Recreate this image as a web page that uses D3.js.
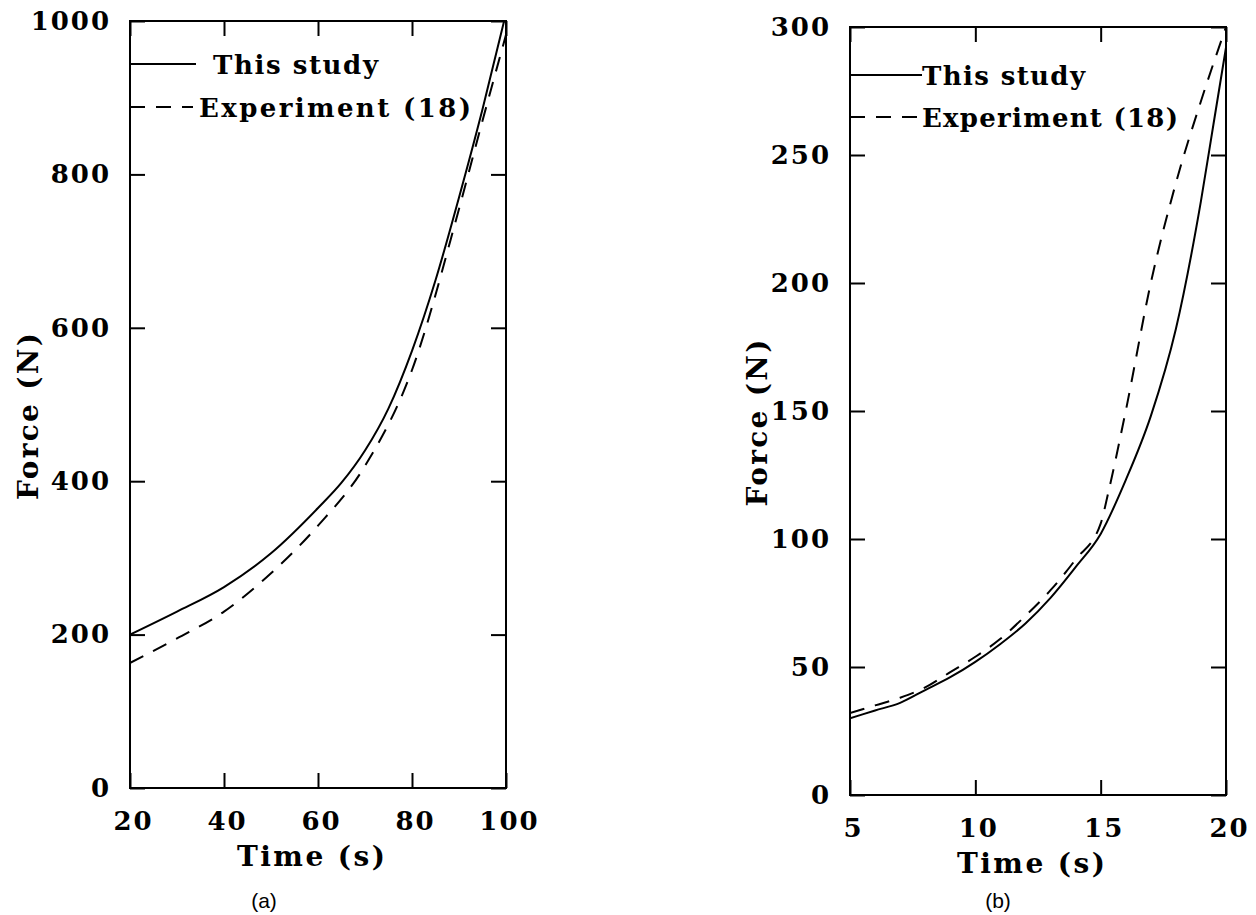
<!DOCTYPE html>
<html>
<head>
<meta charset="utf-8">
<script src="https://cdn.jsdelivr.net/npm/d3@7"></script>
<style>
  body { margin: 0; background: #fff; }
  svg text { font-family: "DejaVu Serif", serif; font-weight: bold; fill: #000; }
  svg text.caption { font-family: "Liberation Sans", Arial, sans-serif; font-weight: normal; }
</style>
</head>
<body>
<div id="chart"></div>
<script>
// panel (a)
const studyTimeA = [20, 30, 40, 50, 60, 65, 70, 75, 80, 85, 90, 95, 99.6];
const studyForceA = [200, 230, 262, 306, 365, 398, 440, 495, 570, 662, 770, 885, 1000];
const expTimeA = [20, 30, 40, 50, 60, 70, 80, 90, 95, 100];
const expForceA = [163, 195, 230, 280, 342, 420, 545, 755, 870, 982];
const xTicksA = [20, 40, 60, 80, 100];
const yTicksA = [0, 200, 400, 600, 800, 1000];

// panel (b)
const studyTimeB = [5, 6, 7, 8, 9, 10, 11, 12, 13, 14, 15, 16, 17, 18, 19, 19.5, 20];
const studyForceB = [30, 33, 36, 41, 46, 52, 59, 67, 77, 89, 102, 123, 148, 182, 232, 262, 292];
const expTimeB = [5, 6, 7, 8, 9, 10, 11, 12, 13, 14, 15, 15.3, 16, 17, 18, 19, 20];
const expForceB = [32, 35, 38, 42, 48, 54, 61, 70, 80, 92, 106, 118, 150, 200, 239, 271, 300];
const xTicksB = [5, 10, 15, 20];
const yTicksB = [0, 50, 100, 150, 200, 250, 300];

const seriesNames = ["This study", "Experiment (18)"];

const svg = d3.select("#chart").append("svg")
    .attr("width", 1256)
    .attr("height", 915);

function drawPanel(p) {
  const g = svg.append("g").attr("transform", `translate(${p.left},${p.top})`);

  const x = d3.scaleLinear().domain(p.xDomain).range([0, p.width]);
  const y = d3.scaleLinear().domain(p.yDomain).range([p.height, 0]);

  g.append("clipPath").attr("id", p.id + "clip")
    .append("rect").attr("width", p.width).attr("height", p.height);

  // axes, ticks pointing inward
  g.append("g")
      .call(d3.axisLeft(y).tickValues(p.yTicks).tickFormat(d3.format("d"))
        .tickSize(-15).tickSizeOuter(0).tickPadding(19));
  const bottom = g.append("g").attr("transform", `translate(0,${p.height})`)
      .call(d3.axisBottom(x).tickValues(p.xTicks).tickFormat(d3.format("d"))
        .tickSize(-15).tickSizeOuter(0).tickPadding(24));
  g.append("g").attr("transform", `translate(${p.width},0)`)
      .call(d3.axisRight(y).tickValues(p.yTicks).tickSize(-15).tickSizeOuter(0).tickFormat(""));
  g.append("g")
      .call(d3.axisTop(x).tickValues(p.xTicks).tickSize(-15).tickSizeOuter(0).tickFormat(""));

  g.selectAll(".domain").remove();
  g.selectAll(".tick line").attr("stroke", "#000").attr("stroke-width", 2);
  g.selectAll(".tick text")
      .style("font-family", "DejaVu Serif").style("font-weight", "bold")
      .style("font-size", "26px").style("letter-spacing", "2px");
  bottom.selectAll(".tick text").attr("dx", 3);

  g.append("rect")
      .attr("width", p.width).attr("height", p.height)
      .attr("fill", "none").attr("stroke", "#000").attr("stroke-width", 2);

  // curves
  const line = d3.line().x(d => x(d[0])).y(d => y(d[1])).curve(d3.curveMonotoneX);
  const study = p.studyTime.map((t, i) => [t, p.studyForce[i]]);
  const exp = p.expTime.map((t, i) => [t, p.expForce[i]]);
  const curves = g.append("g").attr("clip-path", `url(#${p.id}clip)`);
  curves.append("path").datum(study).attr("d", line)
      .attr("fill", "none").attr("stroke", "#000").attr("stroke-width", 2);
  curves.append("path").datum(exp).attr("d", line)
      .attr("fill", "none").attr("stroke", "#000").attr("stroke-width", 2)
      .attr("stroke-dasharray", "15,11");

  // legend
  const lg = g.append("g");
  p.legend.forEach((l, i) => {
    lg.append("line")
        .attr("x1", 0).attr("x2", l.lineEnd).attr("y1", l.y).attr("y2", l.y)
        .attr("stroke", "#000").attr("stroke-width", 2)
        .attr("stroke-dasharray", i === 1 ? "15,11" : null);
    lg.append("text")
        .attr("x", l.textX).attr("y", l.y + 10)
        .attr("textLength", l.len).attr("lengthAdjust", "spacing")
        .style("font-size", "26px")
        .text(seriesNames[i]);
  });

  // axis titles
  g.append("text")
      .attr("x", p.width / 2 - 7).attr("y", p.height + 78)
      .attr("text-anchor", "middle")
      .attr("textLength", 148).attr("lengthAdjust", "spacing")
      .style("font-size", "28px")
      .text("Time (s)");
  g.append("text")
      .attr("transform", `translate(${p.yTitleX},${p.height / 2 + 12}) rotate(-90)`)
      .attr("text-anchor", "middle")
      .attr("dy", "0.35em")
      .attr("textLength", 167).attr("lengthAdjust", "spacing")
      .style("font-size", "28px")
      .text("Force (N)");

  g.append("text").attr("class", "caption")
      .attr("x", p.captionX).attr("y", 908 - p.top)
      .attr("text-anchor", "middle")
      .style("font-size", "21px")
      .text(p.caption);
}

drawPanel({
  id: "a", left: 130, top: 21, width: 376, height: 767,
  xDomain: [20, 100], yDomain: [0, 1000], xTicks: xTicksA, yTicks: yTicksA,
  studyTime: studyTimeA, studyForce: studyForceA, expTime: expTimeA, expForce: expForceA,
  legend: [{y: 43, lineEnd: 66, textX: 83, len: 165}, {y: 86, lineEnd: 63, textX: 69, len: 272}],
  yTitleX: -102, captionX: 134, caption: "(a)"
});

drawPanel({
  id: "b", left: 850, top: 27, width: 376, height: 768,
  xDomain: [5, 20], yDomain: [0, 300], xTicks: xTicksB, yTicks: yTicksB,
  studyTime: studyTimeB, studyForce: studyForceB, expTime: expTimeB, expForce: expForceB,
  legend: [{y: 48, lineEnd: 72, textX: 72, len: 163}, {y: 90, lineEnd: 70, textX: 72, len: 256}],
  yTitleX: -93, captionX: 148, caption: "(b)"
});
</script>
</body>
</html>
